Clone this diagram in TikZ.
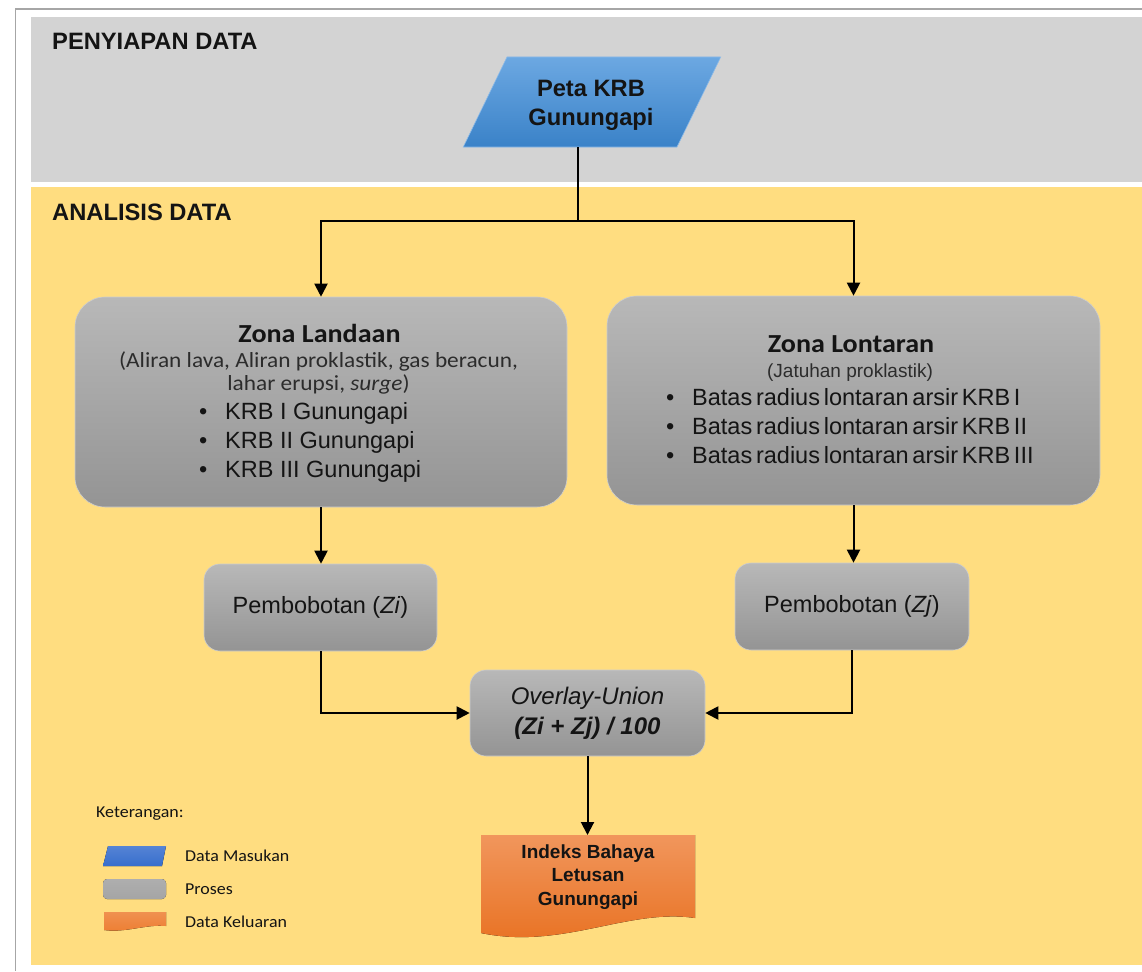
\documentclass[tikz,border=0pt]{standalone}
\usepackage{fontspec}
\setmainfont{Liberation Sans}
\newfontfamily\calfont[FakeStretch=1.08]{Carlito}
\usetikzlibrary{shapes.geometric,arrows.meta}

\definecolor{panelgray}{RGB}{211,211,211}
\definecolor{panelyellow}{RGB}{255,221,128}
\definecolor{frameline}{RGB}{166,166,166}
\definecolor{bluetop}{RGB}{108,168,226}
\definecolor{bluebot}{RGB}{58,130,200}
\definecolor{graytop}{RGB}{184,184,184}
\definecolor{graybot}{RGB}{148,148,148}
\definecolor{orgtop}{RGB}{241,150,92}
\definecolor{orgbot}{RGB}{232,112,32}
\definecolor{legblue}{RGB}{55,110,205}
\definecolor{leggray}{RGB}{165,165,165}
\definecolor{legorange}{RGB}{237,125,49}
\definecolor{ink}{RGB}{20,20,20}

\newcommand\bul{\makebox[26pt][l]{•}}
\newcommand\tightwords{\spaceskip=0.16em\relax}

\tikzset{
  bigproc/.style={rectangle, rounded corners=30pt, inner sep=0pt,
    top color=graytop, bottom color=graybot, draw=graytop!70!white, line width=0.6pt},
  smallproc/.style={rectangle, rounded corners=16pt, inner sep=0pt,
    top color=graytop, bottom color=graybot, draw=graytop!70!white, line width=0.6pt,
    text=ink, font=\fontsize{23.5pt}{30pt}\selectfont, align=center},
  hdr/.style={anchor=base west, inner sep=0pt, text=ink,
    font=\bfseries\fontsize{23.7pt}{28pt}\selectfont},
  petatxt/.style={anchor=base, inner sep=0pt, text=ink,
    font=\bfseries\fontsize{23.7pt}{28pt}\selectfont},
  ttl/.style={anchor=base, inner sep=0pt, text=ink,
    font=\calfont\bfseries\fontsize{26pt}{30pt}\selectfont},
  calsub/.style={anchor=base, inner sep=0pt, text=ink!90,
    font=\calfont\fontsize{21.6pt}{23pt}\selectfont},
  arisub/.style={anchor=base, inner sep=0pt, text=ink!90,
    font=\fontsize{19pt}{23pt}\selectfont},
  item/.style={anchor=base west, inner sep=0pt, text=ink,
    font=\fontsize{23.5pt}{29pt}\selectfont},
  legtxt/.style={anchor=base west, inner sep=0pt, text=ink,
    font=\calfont\fontsize{16.6pt}{19pt}\selectfont},
  conn/.style={line width=2pt, draw=black, -{Triangle[width=13pt,length=13pt]}},
  wire/.style={line width=2pt, draw=black}
}

\begin{document}
\begin{tikzpicture}[x=1pt, y=-1pt]
  % canvas
  \useasboundingbox (0,0) rectangle (1142,971);
  \fill[white] (0,0) rectangle (1142,971);
  \draw[frameline, line width=1.5pt] (15.5,971) -- (15.5,9) -- (1142,9);

  % swimlane panels
  \fill[panelgray] (31,17) rectangle (1142,182);
  \fill[panelyellow] (31,187) rectangle (1142,965);
  \node[hdr] (hprep) at (52,50) {PENYIAPAN DATA};
  \node[hdr] (hanal) at (52,220) {ANALISIS DATA};

  % input data
  \node[trapezium, trapezium left angle=74.5, trapezium right angle=105.5,
        trapezium stretches=true, minimum width=258pt, minimum height=90pt,
        inner sep=6pt, top color=bluetop, bottom color=bluebot,
        draw=bluetop!80!white, line width=0.6pt]
        (peta) at (592,102) {\phantom{M}};
  \node[petatxt] (peta1) at (591,97) {Peta KRB};
  \node[petatxt] (peta2) at (591,125) {Gunungapi};

  % zone boxes
  \node[bigproc, minimum width=492pt, minimum height=210pt] (zl) at (321,402) {};
  \node[bigproc, minimum width=493pt, minimum height=209pt] (zr) at (853.5,400.5) {};

  \node[ttl] (zlt) at (319.5,342) {Zona Landaan};
  \node[calsub] (zls1) at (318.5,367) {(Aliran lava, Aliran proklastik, gas beracun,};
  \node[calsub] (zls2) at (318.5,390) {lahar erupsi, \textit{surge})};
  \node[item] (zlb1) at (199,419) {\bul KRB I Gunungapi};
  \node[item] (zlb2) at (199,448) {\bul KRB II Gunungapi};
  \node[item] (zlb3) at (199,477) {\bul KRB III Gunungapi};

  \node[ttl] (zrt) at (851,352.5) {Zona Lontaran};
  \node[arisub] (zrs1) at (850,377) {(Jatuhan proklastik)};
  \node[item] (zrb1) at (666,405) {\tightwords\bul Batas radius lontaran arsir KRB I};
  \node[item] (zrb2) at (666,434) {\tightwords\bul Batas radius lontaran arsir KRB II};
  \node[item] (zrb3) at (666,463) {\tightwords\bul Batas radius lontaran arsir KRB III};

  % weighting and overlay
  \node[smallproc, minimum width=233pt, minimum height=87pt] (zi) at (320.5,607.5)
        {Pembobotan (\textit{Zi})};
  \node[smallproc, minimum width=234pt, minimum height=87pt] (zj) at (852,606.5)
        {Pembobotan (\textit{Zj})};
  \node[smallproc, minimum width=235pt, minimum height=86pt,
        font=\fontsize{24pt}{30pt}\selectfont] (ov) at (587.5,713)
        {\textit{Overlay-Union}\\\textbf{\textit{(Zi + Zj) / 100}}};

  % output document
  \fill[top color=orgtop, bottom color=orgbot]
        (481,835) -- (695,835) -- (695,918)
        .. controls (628,908) and (562,950) .. (481,933) -- cycle;
  \node[rectangle, minimum width=214pt, minimum height=83pt, inner sep=0pt,
        anchor=north, text=ink, align=center,
        font=\bfseries\fontsize{19pt}{23.5pt}\selectfont]
        (out) at (588,835) {Indeks Bahaya\\Letusan\\Gunungapi};

  % connectors
  \coordinate (split) at (578,221);
  \draw[wire] (split |- peta.south) -- (split);
  \draw[conn] (split) -| (zl.north);
  \draw[conn] (split) -| (zr.north);
  \draw[conn] (zl.south) -- (zl.south |- zi.north);
  \draw[conn] (zr.south) -- (zr.south |- zj.north);
  \draw[conn] (zi.south) |- (ov.west);
  \draw[conn] (zj.south) |- (ov.east);
  \draw[conn] (ov.south) -- (ov.south |- out.north);

  % legend
  \node[legtxt] (legk) at (96,817) {Keterangan:};
  \fill[top color=legblue!85!white, bottom color=legblue]
        (108,846) -- (166,846) -- (162,866) -- (103,866) -- cycle;
  \fill[top color=leggray!90!white, bottom color=leggray, rounded corners=4pt]
        (103,879) rectangle (166,899);
  \fill[top color=legorange!85!white, bottom color=legorange]
        (104,912) -- (166,912) -- (166,926)
        .. controls (146,924) and (126,933) .. (104,930) -- cycle;
  \node[legtxt] (leg1) at (185,861.5) {Data Masukan};
  \node[legtxt] (leg2) at (185,894) {Proses};
  \node[legtxt] (leg3) at (185,927) {Data Keluaran};
\end{tikzpicture}
\end{document}
